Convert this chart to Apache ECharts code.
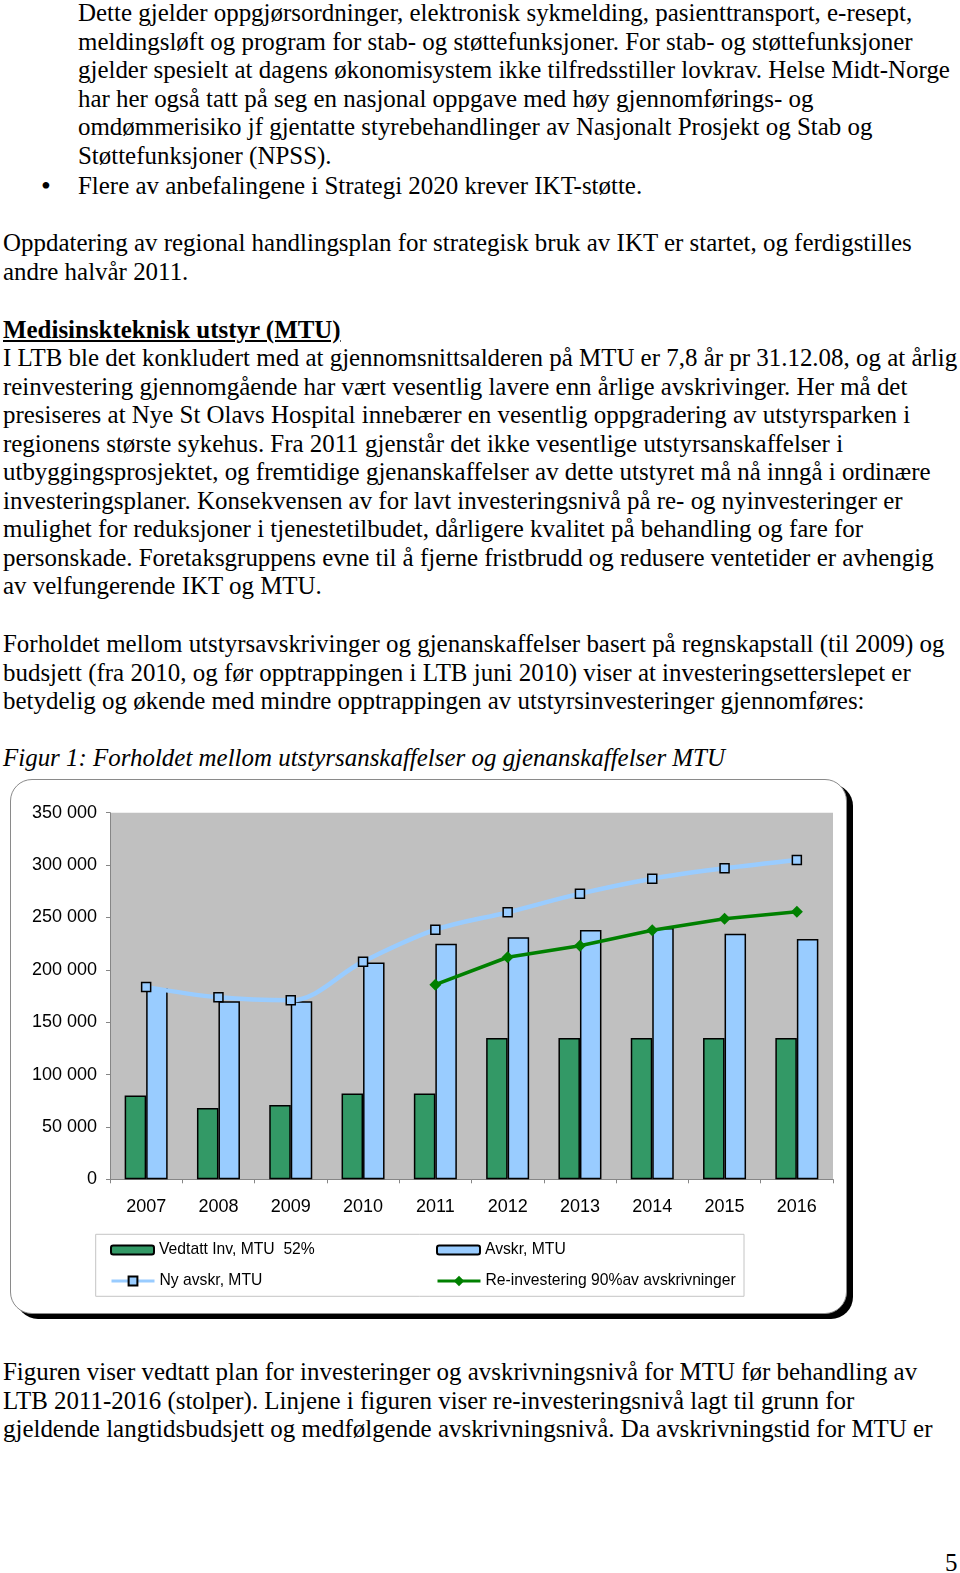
<!DOCTYPE html>
<html><head><meta charset="utf-8">
<script src="https://cdn.jsdelivr.net/npm/echarts@6/dist/echarts.min.js"></script>
<style>
html,body{margin:0;padding:0;background:#fff;}
body{width:960px;height:1573px;position:relative;overflow:hidden;font-family:'Liberation Serif','Times New Roman',serif;font-size:24.95px;color:#000;}
.ln{position:absolute;white-space:nowrap;line-height:29px;height:29px;}
.ind{left:78px;}
.l0{left:3px;}
#frame{position:absolute;left:10px;top:779px;width:835px;height:533px;border:1px solid #8a8a8a;border-radius:22px;box-shadow:6px 5px 0 #000;background:#fff;}
#chart{position:absolute;left:0;top:770px;width:870px;height:560px;}
</style></head><body>
<div class="ln ind" style="top:-2.5px">Dette gjelder oppgjørsordninger, elektronisk sykmelding, pasienttransport, e-resept,</div>
<div class="ln ind" style="top:26.6px">meldingsløft og program for stab- og støttefunksjoner. For stab- og støttefunksjoner</div>
<div class="ln ind" style="top:54.7px">gjelder spesielt at dagens økonomisystem ikke tilfredsstiller lovkrav. Helse Midt-Norge</div>
<div class="ln ind" style="top:83.8px">har her også tatt på seg en nasjonal oppgave med høy gjennomførings- og</div>
<div class="ln ind" style="top:111.9px">omdømmerisiko jf gjentatte styrebehandlinger av Nasjonalt Prosjekt og Stab og</div>
<div class="ln ind" style="top:141px">Støttefunksjoner (NPSS).</div>
<div class="ln" style="top:170.6px;left:41px;font-size:28px">•</div>
<div class="ln ind" style="top:171.1px">Flere av anbefalingene i Strategi 2020 krever IKT-støtte.</div>
<div class="ln l0" style="top:228.3px">Oppdatering av regional handlingsplan for strategisk bruk av IKT er startet, og ferdigstilles</div>
<div class="ln l0" style="top:257.3px">andre halvår 2011.</div>
<div class="ln l0" style="top:314.5px;font-weight:bold;text-decoration:underline">Medisinskteknisk utstyr (MTU)</div>
<div class="ln l0" style="top:342.6px">I LTB ble det konkludert med at gjennomsnittsalderen på MTU er 7,8 år pr 31.12.08, og at årlig</div>
<div class="ln l0" style="top:371.7px">reinvestering gjennomgående har vært vesentlig lavere enn årlige avskrivinger. Her må det</div>
<div class="ln l0" style="top:399.8px">presiseres at Nye St Olavs Hospital innebærer en vesentlig oppgradering av utstyrsparken i</div>
<div class="ln l0" style="top:428.9px">regionens største sykehus. Fra 2011 gjenstår det ikke vesentlige utstyrsanskaffelser i</div>
<div class="ln l0" style="top:457px">utbyggingsprosjektet, og fremtidige gjenanskaffelser av dette utstyret må nå inngå i ordinære</div>
<div class="ln l0" style="top:486px">investeringsplaner. Konsekvensen av for lavt investeringsnivå på re- og nyinvesteringer er</div>
<div class="ln l0" style="top:514.1px">mulighet for reduksjoner i tjenestetilbudet, dårligere kvalitet på behandling og fare for</div>
<div class="ln l0" style="top:543.2px">personskade. Foretaksgruppens evne til å fjerne fristbrudd og redusere ventetider er avhengig</div>
<div class="ln l0" style="top:571.3px">av velfungerende IKT og MTU.</div>
<div class="ln l0" style="top:628.5px">Forholdet mellom utstyrsavskrivinger og gjenanskaffelser basert på regnskapstall (til 2009) og</div>
<div class="ln l0" style="top:657.6px">budsjett (fra 2010, og før opptrappingen i LTB juni 2010) viser at investeringsetterslepet er</div>
<div class="ln l0" style="top:685.7px">betydelig og økende med mindre opptrappingen av utstyrsinvesteringer gjennomføres:</div>
<div class="ln l0" style="top:742.9px;font-style:italic">Figur 1: Forholdet mellom utstyrsanskaffelser og gjenanskaffelser MTU</div>
<div id="frame"></div>
<div id="chart"></div>
<div class="ln l0" style="top:1356.8px">Figuren viser vedtatt plan for investeringer og avskrivningsnivå for MTU før behandling av</div>
<div class="ln l0" style="top:1385.9px">LTB 2011-2016 (stolper). Linjene i figuren viser re-investeringsnivå lagt til grunn for</div>
<div class="ln l0" style="top:1414px">gjeldende langtidsbudsjett og medfølgende avskrivningsnivå. Da avskrivningstid for MTU er</div>
<div class="ln" style="top:1548.4px;left:945px">5</div>
<script>
const years = ['2007','2008','2009','2010','2011','2012','2013','2014','2015','2016'];
const vedtattInv = [80000, 68000, 71000, 82000, 82000, 135000, 135000, 135000, 135000, 135000];
const avskr = [182500, 170000, 170000, 207000, 225000, 231000, 238000, 240000, 234500, 229500];
const nyAvskr = [183500, 173800, 170900, 207800, 238300, 254900, 272700, 287000, 296900, 304900];
const reinvestering = [null, null, null, null, 185800, 212000, 223000, 237700, 248800, 255500];
const names = ['Vedtatt Inv, MTU  52%', 'Avskr, MTU', 'Ny avskr, MTU', 'Re-investering 90%av avskrivninger'];

const sans = "'Liberation Sans', Arial, sans-serif";
const fmt = v => String(v).replace(/\B(?=(\d{3})+(?!\d))/g, ' ');
const chart = echarts.init(document.getElementById('chart'), null, {renderer: 'canvas'});
const legendBase = {
  orient: 'vertical', itemWidth: 43, itemHeight: 9, itemGap: 13, padding: 0,
  selectedMode: false,
  textStyle: {fontSize: 15.7, fontFamily: sans, color: '#000', lineHeight: 18}
};
chart.setOption({
  animation: false,
  backgroundColor: 'transparent',
  grid: {left: 110, top: 42.7, width: 723, height: 366.6, show: true, backgroundColor: '#c0c0c0', borderWidth: 0},
  graphic: [{type: 'rect', silent: true, shape: {x: 95.7, y: 464.3, width: 648.3, height: 62},
    style: {fill: 'none', stroke: '#c4c4c4', lineWidth: 1}}],
  legend: [
    Object.assign({}, legendBase, {left: 110, top: 471, data: [names[0]]}),
    Object.assign({}, legendBase, {left: 436, top: 471, data: [names[1]]}),
    Object.assign({}, legendBase, {left: 110, top: 502, itemHeight: 11,
      lineStyle: {width: 3}, data: [names[2]]}),
    Object.assign({}, legendBase, {left: 436, top: 502, itemHeight: 13,
      lineStyle: {width: 3}, data: [names[3]]})
  ],
  xAxis: {
    type: 'category', data: years, boundaryGap: true,
    axisLine: {lineStyle: {color: '#868686', width: 1}},
    axisTick: {show: true, length: 4, lineStyle: {color: '#868686'}},
    axisLabel: {fontSize: 18, fontFamily: sans, color: '#000', margin: 19}
  },
  yAxis: {
    type: 'value', min: 0, max: 350000, interval: 50000,
    axisLine: {show: true, lineStyle: {color: '#868686', width: 1}},
    axisTick: {show: true, length: 4, lineStyle: {color: '#868686'}},
    splitLine: {show: false},
    axisLabel: {fontSize: 18, fontFamily: sans, color: '#000', margin: 13, formatter: fmt}
  },
  series: [
    {name: names[0], type: 'bar', data: vedtattInv, barWidth: 21.5, barGap: '0%',
      itemStyle: {color: '#339966', borderColor: '#000', borderWidth: 1.5}},
    {name: names[1], type: 'bar', data: avskr, barWidth: 21.5, barGap: '0%',
      itemStyle: {color: '#99ccff', borderColor: '#000', borderWidth: 1.5}},
    {name: names[2], type: 'line', data: nyAvskr, smooth: 0.35, symbol: 'rect', symbolSize: 9,
      lineStyle: {color: '#99ccff', width: 4.5},
      itemStyle: {color: '#99ccff', borderColor: '#000', borderWidth: 1.5}},
    {name: names[3], type: 'line', data: reinvestering, symbol: 'diamond', symbolSize: 12,
      lineStyle: {color: '#008000', width: 3.5},
      itemStyle: {color: '#008000'}}
  ]
});
</script>
</body></html>
